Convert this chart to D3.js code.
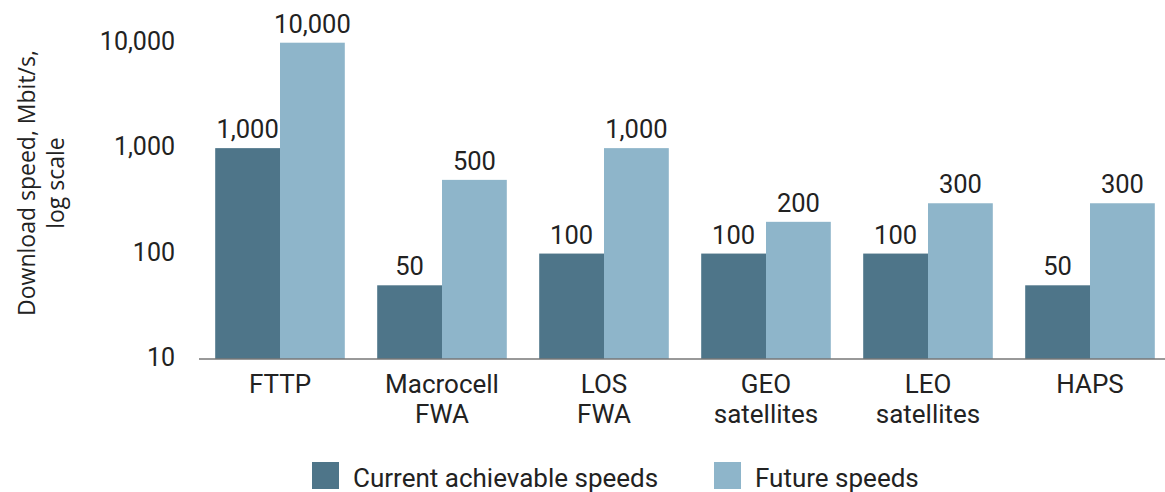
<!DOCTYPE html>
<html>
<head>
<meta charset="utf-8">
<script src="https://cdn.jsdelivr.net/npm/d3@7"></script>
<style>
  body { margin: 0; background: #fff; }
  svg text { font-family: Roboto, "DejaVu Sans", sans-serif; fill: #222; }
</style>
</head>
<body>
<div id="chart"></div>
<script>
// data
var categories = [["FTTP"], ["Macrocell", "FWA"], ["LOS", "FWA"], ["GEO", "satellites"], ["LEO", "satellites"], ["HAPS"]];
var currentSpeeds = [1000, 50, 100, 100, 100, 50];
var futureSpeeds = [10000, 500, 1000, 200, 300, 300];
var seriesNames = ["Current achievable speeds", "Future speeds"];
var tickValues = [10, 100, 1000, 10000];

var WIDTH = 1165, HEIGHT = 492;
var COLORS = ["#4e7589", "#8eb5ca"];

var svg = d3.select("#chart").append("svg")
  .attr("width", WIDTH)
  .attr("height", HEIGHT);

var x = d3.scaleBand()
  .domain(d3.range(categories.length))
  .range([199, 1171])
  .paddingInner(0.2)
  .paddingOuter(0.1);

var x1 = d3.scaleBand()
  .domain([0, 1])
  .range([0, x.bandwidth()]);

var y = d3.scaleLog()
  .domain([10, 10000])
  .range([359, 42.7]);

var rows = categories.map(function(c, i) {
  return { i: i, values: [currentSpeeds[i], futureSpeeds[i]] };
});

// bars
var groups = svg.selectAll("g.group")
  .data(rows)
  .enter()
  .append("g")
  .attr("class", "group")
  .attr("transform", function(d) { return "translate(" + x(d.i) + ",0)"; });

groups.selectAll("rect")
  .data(function(d) { return d.values; })
  .enter()
  .append("rect")
  .attr("x", function(d, j) { return x1(j); })
  .attr("y", function(d) { return y(d); })
  .attr("width", x1.bandwidth())
  .attr("height", function(d) { return y(10) - y(d); })
  .attr("fill", function(d, j) { return COLORS[j]; });

groups.selectAll("text.val")
  .data(function(d) { return d.values; })
  .enter()
  .append("text")
  .attr("class", "val")
  .attr("x", function(d, j) { return x1(j) + x1.bandwidth() / 2; })
  .attr("y", function(d) { return y(d) - 10; })
  .attr("text-anchor", "middle")
  .style("font-size", "25.5px")
  .text(function(d) { return d3.format(",")(d); });

// y axis (labels only)
var yAxis = d3.axisLeft(y)
  .tickValues(tickValues)
  .tickFormat(d3.format(","))
  .tickSize(0)
  .tickPadding(0);

var yg = svg.append("g")
  .attr("transform", "translate(175,0)")
  .call(yAxis);
yg.select(".domain").remove();
yg.selectAll("text")
  .attr("dy", "0.26em")
  .style("font-size", "25px")
  .style("font-family", "Roboto, sans-serif")
  .attr("fill", "#222");

// baseline
svg.append("line")
  .attr("x1", x.range()[0])
  .attr("x2", x.range()[1])
  .attr("y1", y(10))
  .attr("y2", y(10))
  .attr("stroke", "#777")
  .attr("stroke-width", 1.5);

// category labels
var cat = svg.selectAll("text.cat")
  .data(categories)
  .enter()
  .append("text")
  .attr("class", "cat")
  .attr("text-anchor", "middle")
  .style("font-size", "26px")
  .attr("transform", function(d, i) { return "translate(" + (x(i) + x.bandwidth() / 2) + ",393)"; });
cat.selectAll("tspan")
  .data(function(d) { return d; })
  .enter()
  .append("tspan")
  .attr("x", 0)
  .attr("y", function(d, k) { return k * 30; })
  .text(function(d) { return d; });

// y axis title
var title = svg.append("text")
  .attr("text-anchor", "middle")
  .attr("transform", "translate(35,183) rotate(-90)")
  .style("font-family", "'Open Sans', sans-serif")
  .style("font-size", "23px");
title.append("tspan").attr("x", 0).attr("y", 0).text("Download speed, Mbit/s,");
title.append("tspan").attr("x", 0).attr("y", 29).text("log scale");

// legend
var legendX = [312, 714];
var legend = svg.selectAll("g.legend")
  .data(seriesNames)
  .enter()
  .append("g")
  .attr("class", "legend")
  .attr("transform", function(d, i) { return "translate(" + legendX[i] + ",462)"; });
legend.append("rect")
  .attr("width", 27)
  .attr("height", 27)
  .attr("fill", function(d, i) { return COLORS[i]; });
legend.append("text")
  .attr("x", 41)
  .attr("y", 25)
  .style("font-size", "26px")
  .text(function(d) { return d; });
</script>
</body>
</html>
